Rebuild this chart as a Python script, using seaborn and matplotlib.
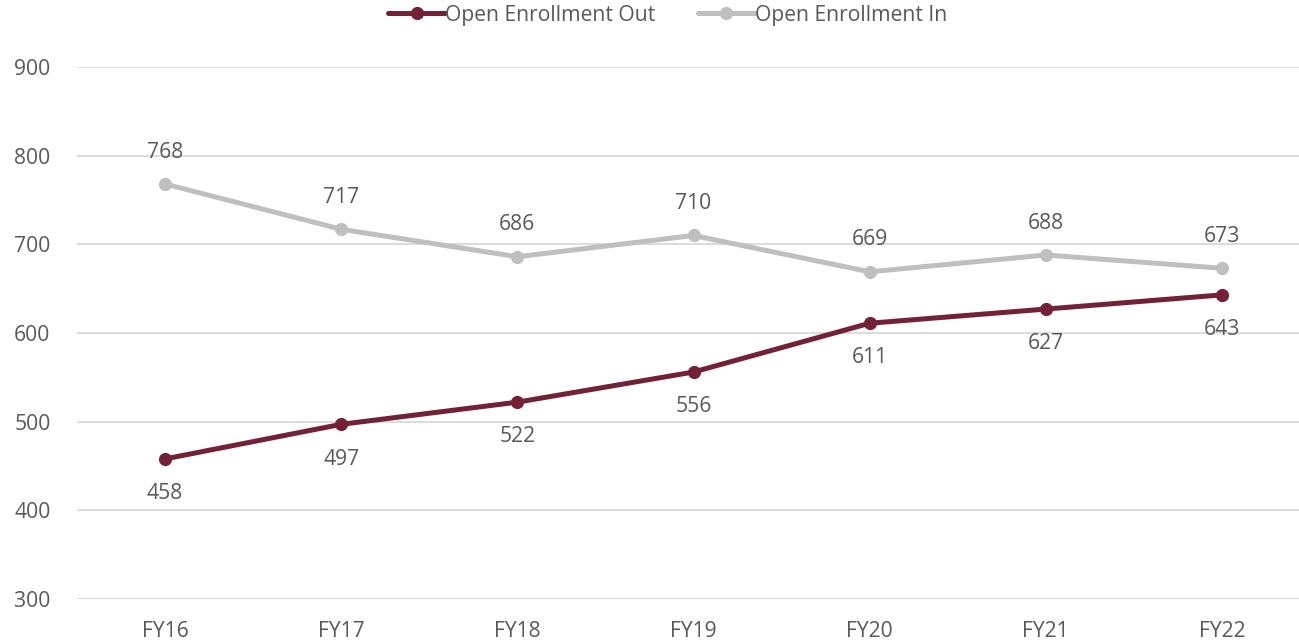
import pandas as pd
import matplotlib.pyplot as plt
import seaborn as sns

years = ["FY16", "FY17", "FY18", "FY19", "FY20", "FY21", "FY22"]
enroll_out = [458, 497, 522, 556, 611, 627, 643]
enroll_in = [768, 717, 686, 710, 669, 688, 673]

TEXT = "#595959"
MAROON = "#722136"
GRAY = "#BFBFBF"
FS = 15.2

df = pd.concat([
    pd.DataFrame({"year": years, "count": enroll_out, "series": "Open Enrollment Out"}),
    pd.DataFrame({"year": years, "count": enroll_in, "series": "Open Enrollment In"}),
])

sns.set_theme(style="white")
plt.rcParams["font.family"] = ["Open Sans", "DejaVu Sans"]

fig = plt.figure(figsize=(12.99, 6.41), dpi=100)
ax = fig.add_axes([77 / 1299, 42 / 641, 1233 / 1299, 532 / 641])

sns.lineplot(
    data=df, x="year", y="count", hue="series",
    palette={"Open Enrollment Out": MAROON, "Open Enrollment In": GRAY},
    marker="o", markersize=9.5, markeredgewidth=0, linewidth=3.6,
    sort=False, ax=ax,
)

# data labels: "In" above the points, "Out" below
for i, (o, n) in enumerate(zip(enroll_out, enroll_in)):
    ax.annotate(str(n), (i, n), xytext=(0, 23), textcoords="offset points",
                ha="center", va="center", fontsize=FS, color=TEXT)
    ax.annotate(str(o), (i, o), xytext=(0, -25), textcoords="offset points",
                ha="center", va="center", fontsize=FS, color=TEXT)

ax.set_xlim(-0.5, 6.5)
ax.set_ylim(300, 900)
ax.set_yticks(range(300, 1000, 100))
ax.yaxis.grid(True, color="#D9D9D9", linewidth=1.3)
ax.set_axisbelow(True)
for s in ax.spines.values():
    s.set_visible(False)
ax.tick_params(axis="both", length=0, labelsize=FS, labelcolor=TEXT)
ax.tick_params(axis="y", pad=19)
ax.tick_params(axis="x", pad=16)
ax.set_xlabel("")
ax.set_ylabel("")

handles, labels = ax.get_legend_handles_labels()
ax.legend_.remove()
fig.legend(handles, labels, loc="center", bbox_to_anchor=(0.514, 0.976),
           ncol=2, frameon=False, fontsize=FS, labelcolor=TEXT,
           handlelength=2.7, handletextpad=0.0, columnspacing=2.0)

fig.savefig("out.png", dpi=100)
